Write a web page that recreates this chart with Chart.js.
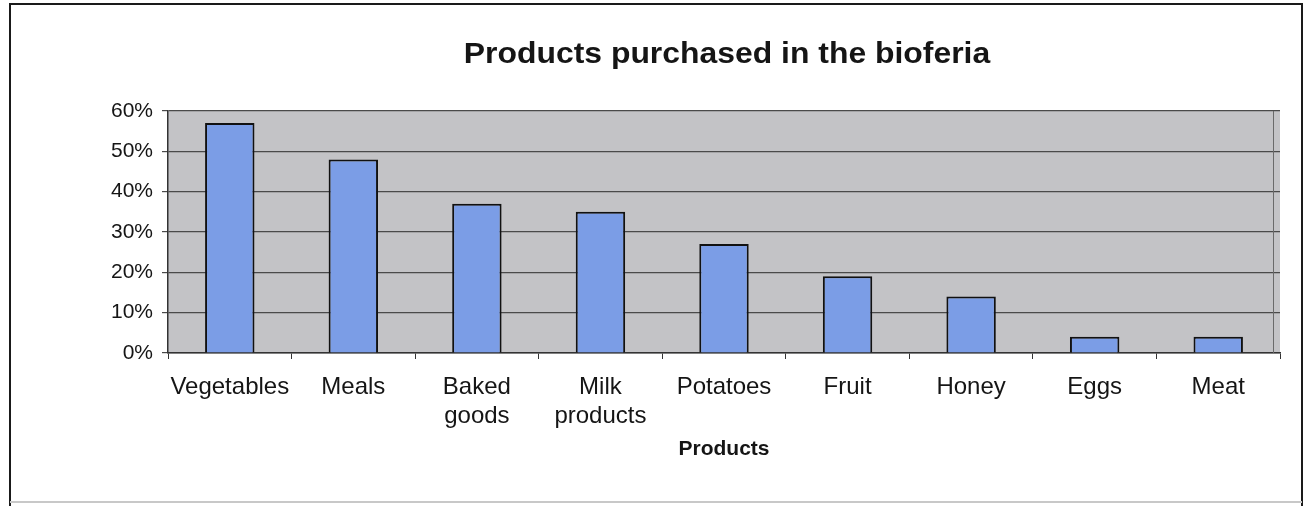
<!DOCTYPE html>
<html>
<head>
<meta charset="utf-8">
<script src="https://cdn.jsdelivr.net/npm/chart.js@4.4.1/dist/chart.umd.min.js"></script>
<style>
  html, body { margin: 0; padding: 0; background: #fff; }
  #wrap { width: 1307px; height: 506px; position: relative; }
</style>
</head>
<body>
<div id="wrap"><canvas id="productsChart" width="1307" height="506"></canvas></div>
<script>
// Share of visitors buying each product group (%)
const productLabels = ["Vegetables", "Meals", ["Baked", "goods"], ["Milk", "products"], "Potatoes", "Fruit", "Honey", "Eggs", "Meat"];
const purchaseShare = [57, 48, 37, 35, 27, 19, 14, 4, 4];
const yTicks = [0, 10, 20, 30, 40, 50, 60];
const chartTitle = "Products purchased in the bioferia";

const FONT = "Arial, 'Liberation Sans', Helvetica, sans-serif";

// Gray plot background, title, outer frame and the right edge line of the plot area
const chartDecor = {
  id: "chartDecor",
  beforeDraw(chart) {
    const { ctx, chartArea: a } = chart;
    ctx.save();
    ctx.fillStyle = "#fff";
    ctx.fillRect(0, 0, chart.width, chart.height);
    ctx.fillStyle = "#c3c3c6";
    ctx.fillRect(a.left, a.top, a.right - a.left, a.bottom - a.top);
    ctx.restore();
  },
  afterDraw(chart) {
    const { ctx, chartArea: a } = chart;
    ctx.save();
    ctx.strokeStyle = "#6a6a6a";
    ctx.lineWidth = 1;
    ctx.beginPath();
    ctx.moveTo(a.right - 6.5, a.top);
    ctx.lineTo(a.right - 6.5, a.bottom);
    ctx.stroke();

    // title, a little wider than the plain font
    ctx.translate((a.left + a.right) / 2 + 3, 63);
    ctx.scale(1.1, 1);
    ctx.fillStyle = "#151515";
    ctx.font = "bold 29px " + FONT;
    ctx.textAlign = "center";
    ctx.textBaseline = "alphabetic";
    ctx.fillText(chartTitle, 0, 0);
    ctx.setTransform(1, 0, 0, 1, 0, 0);

    ctx.strokeStyle = "#1a1a1a";
    ctx.lineWidth = 2;
    ctx.beginPath();
    ctx.moveTo(10, 506);
    ctx.lineTo(10, 4);
    ctx.lineTo(1302, 4);
    ctx.lineTo(1302, 506);
    ctx.stroke();
    ctx.strokeStyle = "#c8c8c8";
    ctx.beginPath();
    ctx.moveTo(10, 502);
    ctx.lineTo(1302, 502);
    ctx.stroke();
    ctx.restore();
  }
};

new Chart(document.getElementById("productsChart"), {
  type: "bar",
  data: {
    labels: productLabels,
    datasets: [{
      data: purchaseShare,
      backgroundColor: "#7b9de6",
      borderColor: "#111",
      borderWidth: 2,
      barPercentage: 0.4,
      categoryPercentage: 1.0
    }]
  },
  options: {
    responsive: false,
    animation: false,
    layout: { padding: { top: 111, left: 0, right: 27, bottom: 44 } },
    plugins: {
      legend: { display: false },
      tooltip: { enabled: false },
      title: { display: false }
    },
    scales: {
      x: {
        grid: {
          offset: true,
          drawOnChartArea: false,
          drawTicks: true,
          tickLength: 6,
          color: "#333",
          lineWidth: 1
        },
        border: { display: true, color: "#333", width: 1.5 },
        ticks: {
          color: "#151515",
          font: { family: FONT, size: 24 },
          padding: 14,
          maxRotation: 0,
          autoSkip: false
        },
        title: {
          display: true,
          text: "Products",
          color: "#151515",
          font: { family: FONT, size: 21, weight: "bold" },
          padding: { top: 4, bottom: 0 }
        },
        afterFit(scale) { scale.height = 109; }
      },
      y: {
        min: 0,
        max: 60,
        afterBuildTicks(scale) { scale.ticks = yTicks.map(v => ({ value: v })); },
        grid: {
          color: "#4a4a4a",
          lineWidth: 1.2,
          tickLength: 6,
          drawTicks: true
        },
        border: { display: true, color: "#333", width: 1.5 },
        ticks: {
          color: "#151515",
          font: { family: FONT, size: 21 },
          padding: 9,
          callback: v => v + "%"
        },
        afterFit(scale) { scale.width = 168; }
      }
    }
  },
  plugins: [chartDecor]
});
</script>
</body>
</html>
